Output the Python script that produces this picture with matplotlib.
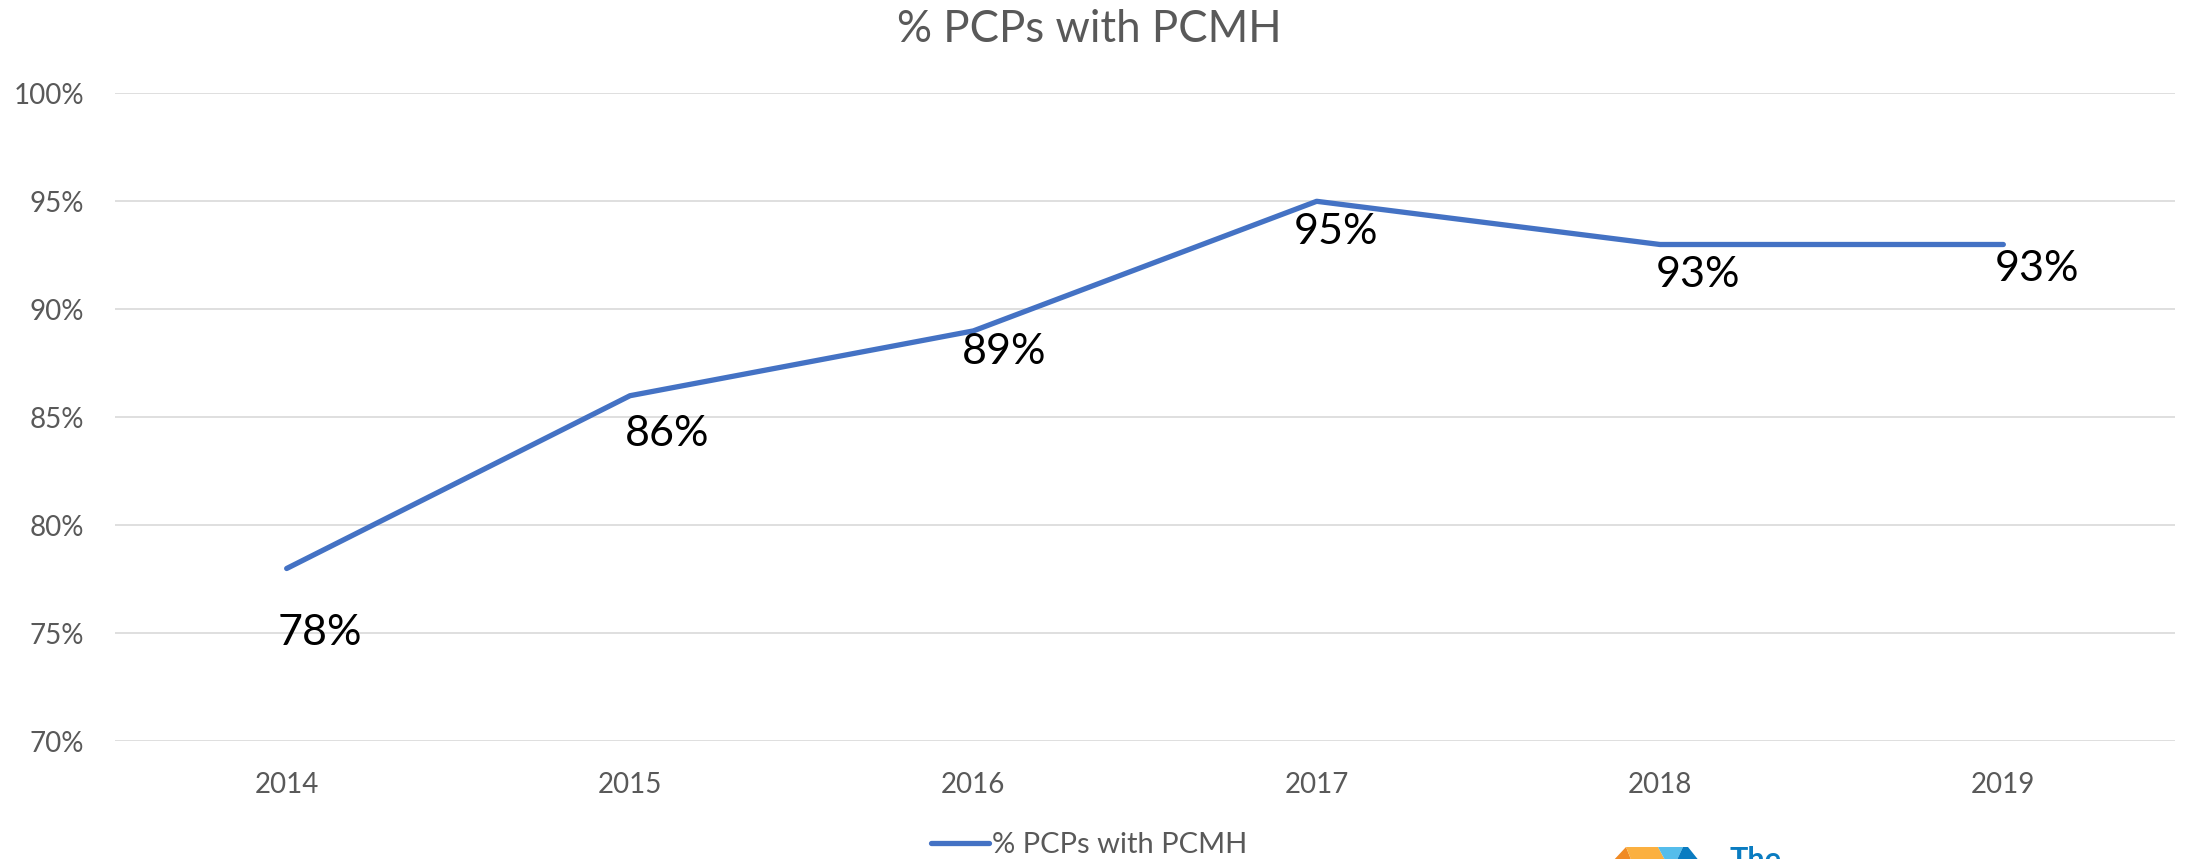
import matplotlib
matplotlib.use("Agg")
import matplotlib.pyplot as plt
from matplotlib.patches import Polygon

plt.rcParams['font.family'] = ['Lato', 'DejaVu Sans']

# ---- data ----
years = ["2014", "2015", "2016", "2017", "2018", "2019"]
pct_pcmh = [78, 86, 89, 95, 93, 93]
y_ticks = [70, 75, 80, 85, 90, 95, 100]
title = "% PCPs with PCMH"
series_name = "% PCPs with PCMH"

# label offsets (pixels) relative to each point
label_offsets = [(33, -65), (37, -38), (31, -21), (19, -31), (38, -31), (34, -25)]

W, H = 2186, 859
fig = plt.figure(figsize=(W / 100, H / 100), dpi=100)
ax = fig.add_axes([115 / W, 1 - 741.3 / H, (2175 - 115) / W, (741.3 - 93.3) / H])

x = list(range(len(years)))
line, = ax.plot(x, pct_pcmh, color="#4472C4", lw=3.8, solid_capstyle="round",
                solid_joinstyle="round", label=series_name, zorder=3)

for xi, v, (dx, dy) in zip(x, pct_pcmh, label_offsets):
    ax.annotate(f"{v}%", (xi, v), xytext=(dx, dy), textcoords="offset pixels",
                ha="center", va="center", fontsize=31, color="black", zorder=4)

ax.set_xlim(-0.5, len(years) - 0.5)
ax.set_ylim(70, 100)
ax.set_yticks(y_ticks)
ax.set_yticklabels([f"{t}%" for t in y_ticks])
ax.set_xticks(x)
ax.set_xticklabels(years)
ax.tick_params(axis="both", length=0, labelsize=20, labelcolor="#595959")
ax.tick_params(axis="x", pad=22)
ax.tick_params(axis="y", pad=22)
ax.grid(axis="y", color="#D9D9D9", lw=1.2)
ax.set_axisbelow(True)
for s in ax.spines.values():
    s.set_visible(False)

fig.text(1089 / W, 1 - 29 / H, title, ha="center", va="center", fontsize=31.5, color="#595959")

leg = fig.legend(handles=[line], loc="center", bbox_to_anchor=(1089 / W, 1 - 845 / H),
                 frameon=False, fontsize=21, handlelength=2.0, handletextpad=0.1,
                 labelcolor="#595959")

# partial logo at bottom edge (cut off by the frame, as in the original)
def fpoly(pts, color):
    fig.patches.append(Polygon([(px / W, 1 - py / H) for px, py in pts], closed=True,
                               transform=fig.transFigure, facecolor=color, edgecolor="none"))

fpoly([(1612, 862), (1626, 847), (1632, 862)], "#F08A24")
fpoly([(1626, 847), (1658, 847), (1666, 862), (1632, 862)], "#FBB040")
fpoly([(1658, 847), (1683, 847), (1676, 862), (1666, 862)], "#55BDEB")
fpoly([(1683, 847), (1688, 847), (1700, 862), (1676, 862)], "#0A7CC1")
fig.text(1729 / W, 1 - 846 / H, "The", ha="left", va="top", fontsize=22,
         fontweight="bold", color="#0A7CC1")

fig.savefig("out.png", dpi=100)
